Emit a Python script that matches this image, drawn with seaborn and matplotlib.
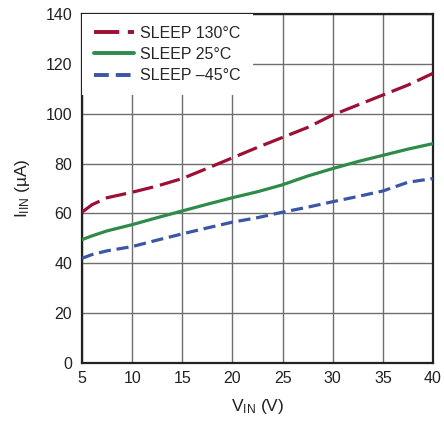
import numpy as np
import pandas as pd
import matplotlib
matplotlib.use("Agg")
import matplotlib.pyplot as plt
import seaborn as sns

vin = [5, 6, 7.5, 10, 12.5, 15, 17.5, 20, 22.5, 25, 27.5, 30, 32.5, 35, 37.5, 40]
sleep_130 = [60.5, 63.5, 66.3, 68.5, 71.0, 74.0, 78.1, 82.3, 86.5, 90.5, 94.5, 99.5, 103.5, 107.5, 111.5, 116.2]
sleep_25 = [49.5, 51.0, 53.0, 55.5, 58.3, 61.0, 63.7, 66.3, 68.7, 71.5, 75.0, 78.0, 80.8, 83.3, 85.8, 88.0]
sleep_m45 = [42.0, 43.5, 45.0, 46.7, 49.3, 51.8, 54.2, 56.5, 58.3, 60.5, 62.5, 64.7, 66.8, 69.0, 72.5, 74.0]
labels = ["SLEEP 130°C", "SLEEP 25°C", "SLEEP –45°C"]

df = pd.DataFrame({
    "vin": vin * 3,
    "iin": sleep_130 + sleep_25 + sleep_m45,
    "curve": [labels[0]] * len(vin) + [labels[1]] * len(vin) + [labels[2]] * len(vin),
})

sns.set_style("white")
plt.rcParams["font.family"] = ["Liberation Sans", "DejaVu Sans"]
plt.rcParams["mathtext.fontset"] = "custom"
plt.rcParams["mathtext.rm"] = "Liberation Sans"
plt.rcParams["mathtext.it"] = "Liberation Sans"

palette = {labels[0]: "#9b1034", labels[1]: "#2e8b4a", labels[2]: "#3a56a5"}
dashes = {labels[0]: (6.5, 2.2), labels[1]: "", labels[2]: (3.8, 1.8)}

fig = plt.figure(figsize=(4.44, 4.21), dpi=100)
ax = fig.add_axes([0.1847, 0.1378, 0.7905, 0.8289])

sns.lineplot(data=df, x="vin", y="iin", hue="curve", style="curve",
             palette=palette, dashes=dashes, linewidth=2.3, ax=ax, zorder=3)

ax.set_xlim(5, 40)
ax.set_ylim(0, 140)
ax.set_xticks(np.arange(5, 41, 5))
ax.set_yticks(np.arange(0, 141, 20))
ax.grid(True, color="#6e6e6e", linewidth=1.0, zorder=0)
ax.tick_params(length=0, labelsize=11.5, colors="#222222")
ax.tick_params(axis="y", pad=7)
ax.tick_params(axis="x", pad=6)
for sp in ax.spines.values():
    sp.set_color("#222222")
    sp.set_linewidth(1.6)

ax.set_xlabel(r"V$_{\mathrm{IN}}$ (V)", fontsize=12.5, color="#222222", labelpad=8)
ax.set_ylabel(r"I$_{\mathrm{IIN}}$ (µA)", fontsize=12.5, color="#222222", labelpad=10)

leg = ax.legend(loc="upper left", frameon=True, fancybox=False, framealpha=1,
                edgecolor="none", facecolor="white", fontsize=11.5,
                borderaxespad=0.0, borderpad=0.75, handlelength=2.5,
                handletextpad=0.4, labelspacing=0.38, title=None)
for h in leg.get_lines():
    h.set_linewidth(2.8)

fig.savefig("out.png", dpi=100)
